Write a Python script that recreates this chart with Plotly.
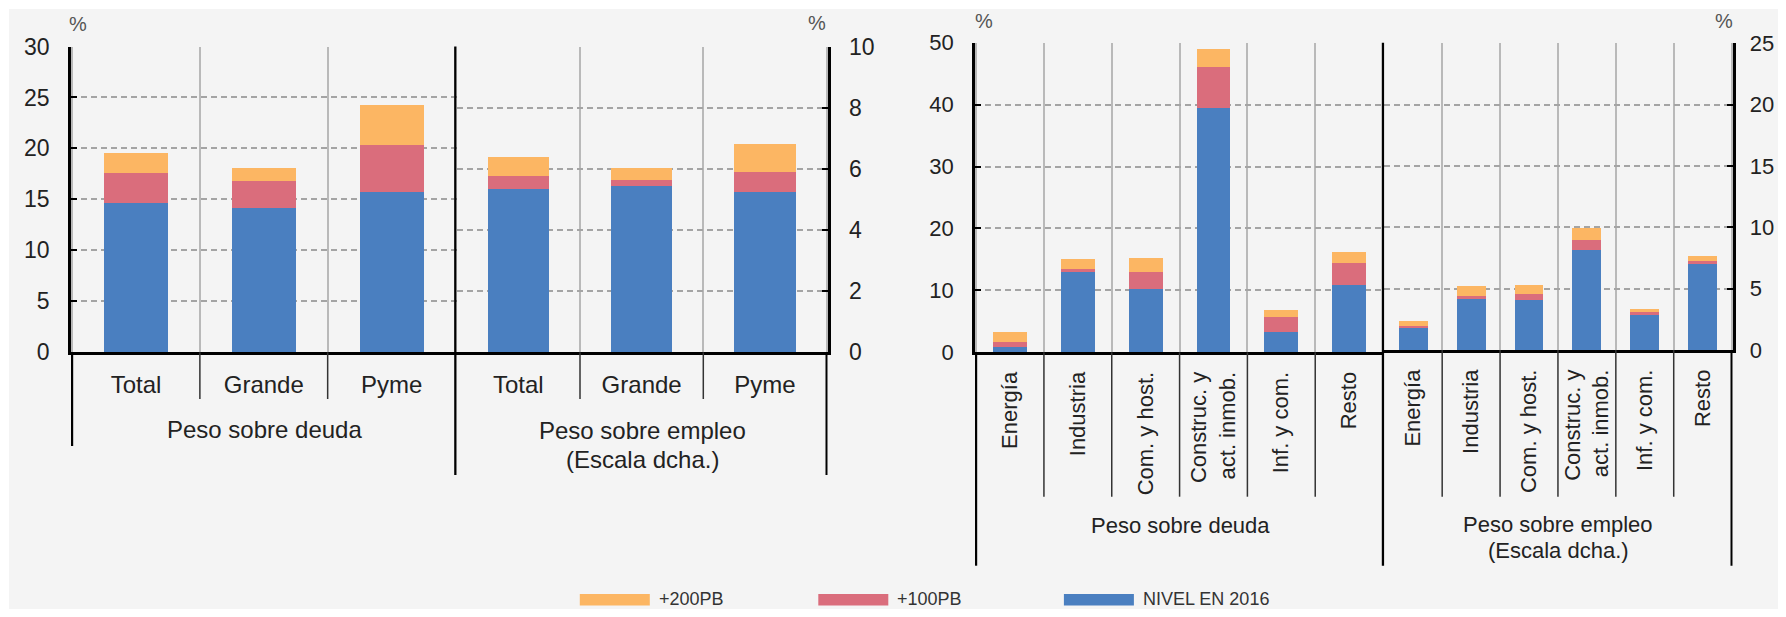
import plotly.graph_objects as go

# Page is 1786x617; the browser body keeps its default 8px margin,
# so the figure is made 16px smaller and all layout positions are
# expressed in page pixels and converted below.
PAGE_W, PAGE_H = 1786, 617
OFF = 8
FW, FH = PAGE_W - 2 * OFF, PAGE_H - 2 * OFF

# ---------------- DATA ----------------
tamano_cats = ["Total", "Grande", "Pyme"]
sector_cats = ["Energía", "Industria", "Com. y host.", "Construc. y<br>act. inmob.", "Inf. y com.", "Resto"]

# Peso sobre deuda por tamaño (%)
deuda_tam_nivel = [14.6, 14.2, 15.7]
deuda_tam_100 = [3.0, 2.6, 4.6]
deuda_tam_200 = [2.0, 1.3, 4.0]

# Peso sobre empleo por tamaño (%), escala dcha.
empleo_tam_nivel = [5.35, 5.45, 5.23]
empleo_tam_100 = [0.40, 0.17, 0.67]
empleo_tam_200 = [0.64, 0.40, 0.90]

# Peso sobre deuda por sector (%)
deuda_sec_nivel = [0.8, 12.9, 10.3, 39.4, 3.2, 10.8]
deuda_sec_100 = [0.9, 0.5, 2.7, 6.7, 2.5, 3.6]
deuda_sec_200 = [1.5, 1.7, 2.3, 2.9, 1.1, 1.8]

# Peso sobre empleo por sector (%), escala dcha.
empleo_sec_nivel = [1.77, 4.13, 4.07, 8.12, 2.85, 6.98]
empleo_sec_100 = [0.19, 0.30, 0.49, 0.82, 0.22, 0.27]
empleo_sec_200 = [0.40, 0.76, 0.74, 0.98, 0.27, 0.41]

series_names = ["NIVEL EN 2016", "+100PB", "+200PB"]
series_colors = ["#4A7FC0", "#DA6D7C", "#FCB663"]

# ---------------- HELPERS ----------------
def X(px):
    return (px - OFF) / FW

def Y(py):
    return 1 - (py - OFF) / FH

FONT = "Liberation Sans, Arial, sans-serif"
TXT = "#222222"

fig = go.Figure()

panels = [
    ("x", "y", tamano_cats, [deuda_tam_nivel, deuda_tam_100, deuda_tam_200]),
    ("x2", "y2", tamano_cats, [empleo_tam_nivel, empleo_tam_100, empleo_tam_200]),
    ("x3", "y3", sector_cats, [deuda_sec_nivel, deuda_sec_100, deuda_sec_200]),
    ("x4", "y4", sector_cats, [empleo_sec_nivel, empleo_sec_100, empleo_sec_200]),
]

for xa, ya, cats, vals in panels:
    for name, color, v in zip(series_names, series_colors, vals):
        fig.add_trace(go.Bar(
            x=cats, y=v, name=name, xaxis=xa, yaxis=ya,
            marker=dict(color=color, line=dict(width=0)),
            showlegend=False, width=0.5,
        ))

ygrid = dict(showgrid=True, gridcolor="#a4a4a4", gridwidth=1.5, griddash="6px,4px",
             showline=True, linecolor="black", linewidth=2.5,
             ticks="inside", ticklen=6, tickwidth=1.5, tickcolor="black",
             zeroline=False, tickfont=dict(family=FONT, size=23, color=TXT),
             ticklabelstandoff=14, automargin=False, fixedrange=True)
xbase = dict(type="category", tickson="boundaries", showgrid=True, gridcolor="#b9b9b9",
             gridwidth=1.5, showline=True, linecolor="black", linewidth=2.5,
             ticks="", zeroline=False, automargin=False, fixedrange=True)

yA = [Y(352.3), Y(46.5)]
yBl = [Y(352.3), Y(42.7)]
yBr = [Y(350.0), Y(43.3)]

layout = dict(
    width=FW, height=FH, margin=dict(l=0, r=0, t=0, b=0, autoexpand=False),
    paper_bgcolor="white", plot_bgcolor="rgba(0,0,0,0)",
    barmode="stack", showlegend=False,
    xaxis=dict(xbase, domain=[X(71), X(456.7)], anchor="y",
               tickfont=dict(family=FONT, size=24, color=TXT), ticklabelstandoff=9),
    yaxis=dict(ygrid, domain=yA, anchor="x", range=[0, 30], dtick=5, side="left"),
    xaxis2=dict(xbase, domain=[X(456.7), X(827.7)], anchor="y2",
                tickfont=dict(family=FONT, size=24, color=TXT), ticklabelstandoff=9),
    yaxis2=dict(ygrid, domain=yA, anchor="x2", range=[0, 10], dtick=2, side="right"),
    xaxis3=dict(xbase, domain=[X(975), X(1384.3)], anchor="y3", tickangle=-90,
                tickfont=dict(family=FONT, size=22, color=TXT), ticklabelstandoff=8),
    yaxis3=dict(ygrid, domain=yBl, anchor="x3", range=[0, 50], dtick=10, side="left",
                tickfont=dict(family=FONT, size=22, color=TXT)),
    xaxis4=dict(xbase, domain=[X(1384.3), X(1732.7)], anchor="y4", tickangle=-90,
                tickfont=dict(family=FONT, size=22, color=TXT), ticklabelstandoff=8),
    yaxis4=dict(ygrid, domain=yBr, anchor="x4", range=[0, 25], dtick=5, side="right",
                tickfont=dict(family=FONT, size=22, color=TXT), ticklabelstandoff=10),
)
fig.update_layout(**layout)

shapes = []
# grey page background
shapes.append(dict(type="rect", xref="paper", yref="paper", x0=X(9), x1=1, y0=0, y1=Y(9),
                   fillcolor="#f4f4f4", line=dict(width=0), layer="below"))

def vline(xref, xval, ytop_px, ybot_px, color="#333333", width=1.5):
    shapes.append(dict(type="line", xref=xref, yref="paper", x0=xval, x1=xval,
                       y0=Y(ybot_px), y1=Y(ytop_px), line=dict(color=color, width=width),
                       layer="above"))

# Chart A separators below axis
for xr, cats in (("x", tamano_cats), ("x2", tamano_cats)):
    for i in range(1, len(cats)):
        vline(xr, i - 0.5, 352.3, 399)
vline("x", -0.5, 352.3, 446, "black", 2.2)
vline("x", len(tamano_cats) - 0.5, 46.5, 475, "black", 2.5)
vline("x2", len(tamano_cats) - 0.5, 352.3, 475, "black", 2.2)

# Chart B separators below axis
for xr, cats, y0 in (("x3", sector_cats, 352.3), ("x4", sector_cats, 350.0)):
    for i in range(1, len(cats)):
        vline(xr, i - 0.5, y0, 496.7)
vline("x3", -0.5, 352.3, 565.7, "black", 2.2)
vline("x3", len(sector_cats) - 0.5, 42.7, 565.7, "black", 2.5)
vline("x4", len(sector_cats) - 0.5, 350.0, 565.7, "black", 2.2)

annotations = []

def ann(text, xpx, ypx, size, xanchor="center", color=TXT):
    annotations.append(dict(text=text, x=X(xpx), y=Y(ypx), xref="paper", yref="paper",
                            xanchor=xanchor, yanchor="middle", showarrow=False,
                            font=dict(family=FONT, size=size, color=color)))

# % units
ann("%", 78, 24, 20, color="#555555")
ann("%", 816.5, 23.5, 20, color="#555555")
ann("%", 984, 21, 20, color="#555555")
ann("%", 1724, 21.5, 20, color="#555555")

# group labels
ann("Peso sobre deuda", 264, 429.5, 24)
ann("Peso sobre empleo", 642, 430, 24)
ann("(Escala dcha.)", 642, 459.3, 24)
ann("Peso sobre deuda", 1180, 525, 22)
ann("Peso sobre empleo", 1558, 524, 22)
ann("(Escala dcha.)", 1558, 550.7, 22)

# manual legend (order as in reference)
legend_items = [("+200PB", series_colors[2], 579.8), ("+100PB", series_colors[1], 818.3),
                ("NIVEL EN 2016", series_colors[0], 1063.9)]
for label, color, x0 in legend_items:
    shapes.append(dict(type="rect", xref="paper", yref="paper", x0=X(x0), x1=X(x0 + 70),
                       y0=Y(605.5), y1=Y(594), fillcolor=color, line=dict(width=0)))
    ann(label, x0 + 77, 599.3, 18, xanchor="left", color="#333333")

fig.update_layout(shapes=shapes, annotations=annotations)
fig.write_html("out.html")
